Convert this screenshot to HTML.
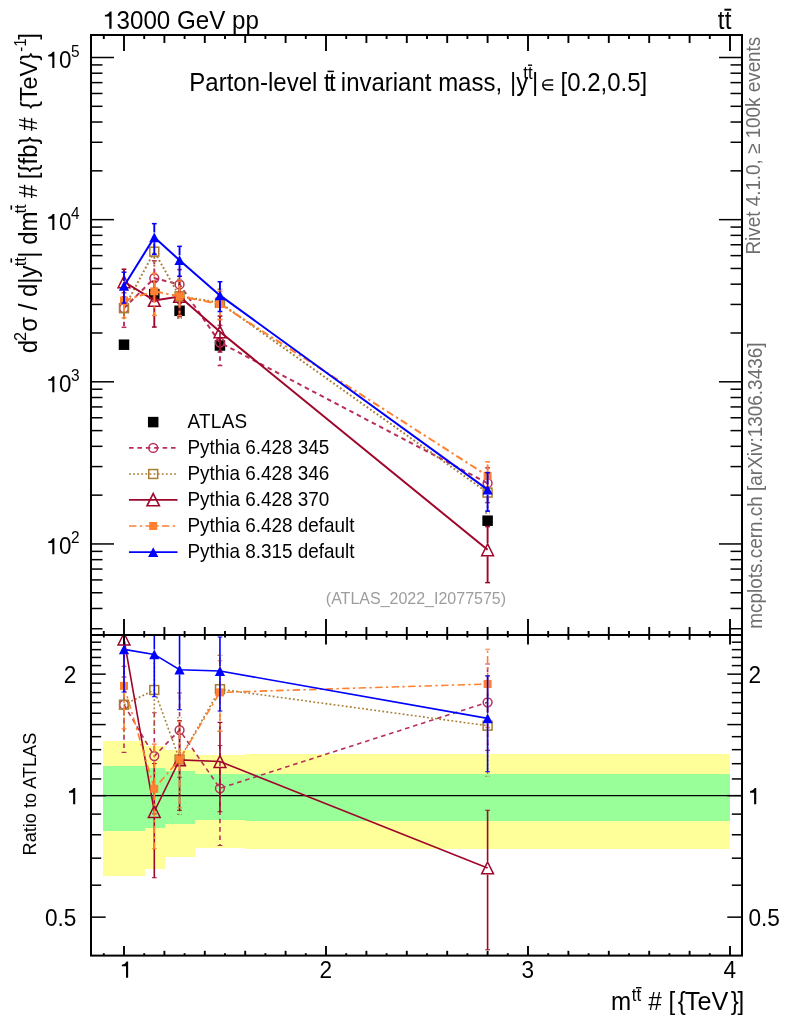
<!DOCTYPE html>
<html><head><meta charset="utf-8"><title>ttbar invariant mass</title>
<style>html,body{margin:0;padding:0;background:#fff;}svg{display:block;will-change:transform;}text{font-family:"Liberation Sans",sans-serif;fill:#000;}</style></head><body>
<svg width="786" height="1024" viewBox="0 0 786 1024">
<rect width="786" height="1024" fill="#fff"/>
<defs><clipPath id="cm"><rect x="91.0" y="35.0" width="651.0" height="600.0"/></clipPath><clipPath id="cr"><rect x="91.0" y="635.0" width="651.0" height="320.6"/></clipPath></defs>
<g shape-rendering="crispEdges">
<rect x="103" y="740.8" width="41.7" height="135.4" fill="#ffff99"/>
<rect x="144.4" y="745.6" width="20.6" height="122.9" fill="#ffff99"/>
<rect x="164.7" y="750.2" width="30.4" height="107.1" fill="#ffff99"/>
<rect x="194.8" y="754.7" width="50.7" height="93" fill="#ffff99"/>
<rect x="245.2" y="753.8" width="485.1" height="95.1" fill="#ffff99"/>
<rect x="103" y="766" width="41.7" height="65.2" fill="#99ff99"/>
<rect x="144.4" y="767.8" width="20.6" height="60.1" fill="#99ff99"/>
<rect x="164.7" y="771.2" width="30.4" height="52.6" fill="#99ff99"/>
<rect x="194.8" y="773.5" width="50.7" height="46.7" fill="#99ff99"/>
<rect x="245.2" y="774" width="485.1" height="46.8" fill="#99ff99"/>
</g>
<line x1="91.0" y1="795.65" x2="742.0" y2="795.65" stroke="#000" stroke-width="1.4"/>
<g clip-path="url(#cm)">
<rect x="118.75" y="339.45" width="10.5" height="10.5" fill="#000"/>
<rect x="149.05" y="288.85" width="10.5" height="10.5" fill="#000"/>
<rect x="174.3" y="305.55" width="10.5" height="10.5" fill="#000"/>
<rect x="214.7" y="340.25" width="10.5" height="10.5" fill="#000"/>
<rect x="482.35" y="515.45" width="10.5" height="10.5" fill="#000"/>
<polyline points="124,308.16 154.3,278.21 179.55,284.47 219.95,342.55 487.6,483.2" fill="none" stroke="#b83059" stroke-width="2.0" stroke-dasharray="4.6,3.8"/><line x1="124" y1="302.96" x2="124" y2="292.73" stroke="#b83059" stroke-width="1.9" stroke-dasharray="4.6,3.8"/><line x1="121.6" y1="292.73" x2="126.4" y2="292.73" stroke="#b83059" stroke-width="1.5"/><line x1="124" y1="313.36" x2="124" y2="327.32" stroke="#b83059" stroke-width="1.9" stroke-dasharray="4.6,3.8"/><line x1="121.6" y1="327.32" x2="126.4" y2="327.32" stroke="#b83059" stroke-width="1.5"/><line x1="154.3" y1="273.01" x2="154.3" y2="260.78" stroke="#b83059" stroke-width="1.9" stroke-dasharray="4.6,3.8"/><line x1="151.9" y1="260.78" x2="156.7" y2="260.78" stroke="#b83059" stroke-width="1.5"/><line x1="154.3" y1="283.41" x2="154.3" y2="301.43" stroke="#b83059" stroke-width="1.9" stroke-dasharray="4.6,3.8"/><line x1="151.9" y1="301.43" x2="156.7" y2="301.43" stroke="#b83059" stroke-width="1.5"/><line x1="179.55" y1="279.27" x2="179.55" y2="269.56" stroke="#b83059" stroke-width="1.9" stroke-dasharray="4.6,3.8"/><line x1="177.15" y1="269.56" x2="181.95" y2="269.56" stroke="#b83059" stroke-width="1.5"/><line x1="179.55" y1="289.67" x2="179.55" y2="303.43" stroke="#b83059" stroke-width="1.9" stroke-dasharray="4.6,3.8"/><line x1="177.15" y1="303.43" x2="181.95" y2="303.43" stroke="#b83059" stroke-width="1.5"/><line x1="219.95" y1="337.35" x2="219.95" y2="325.35" stroke="#b83059" stroke-width="1.9" stroke-dasharray="4.6,3.8"/><line x1="217.55" y1="325.35" x2="222.35" y2="325.35" stroke="#b83059" stroke-width="1.5"/><line x1="219.95" y1="347.75" x2="219.95" y2="365.53" stroke="#b83059" stroke-width="1.9" stroke-dasharray="4.6,3.8"/><line x1="217.55" y1="365.53" x2="222.35" y2="365.53" stroke="#b83059" stroke-width="1.5"/><line x1="487.6" y1="478" x2="487.6" y2="467.81" stroke="#b83059" stroke-width="1.9" stroke-dasharray="4.6,3.8"/><line x1="485.2" y1="467.81" x2="490" y2="467.81" stroke="#b83059" stroke-width="1.5"/><line x1="487.6" y1="488.4" x2="487.6" y2="502.52" stroke="#b83059" stroke-width="1.9" stroke-dasharray="4.6,3.8"/><line x1="485.2" y1="502.52" x2="490" y2="502.52" stroke="#b83059" stroke-width="1.5"/><circle cx="124" cy="308.16" r="4.4" fill="none" stroke="#b83059" stroke-width="1.5"/><circle cx="154.3" cy="278.21" r="4.4" fill="none" stroke="#b83059" stroke-width="1.5"/><circle cx="179.55" cy="284.47" r="4.4" fill="none" stroke="#b83059" stroke-width="1.5"/><circle cx="219.95" cy="342.55" r="4.4" fill="none" stroke="#b83059" stroke-width="1.5"/><circle cx="487.6" cy="483.2" r="4.4" fill="none" stroke="#b83059" stroke-width="1.5"/><polyline points="124,308.16 154.3,251.66 179.55,296.28 219.95,302.73 487.6,492.6" fill="none" stroke="#a87d2f" stroke-width="2.0" stroke-dasharray="1.8,2.3"/><line x1="124" y1="302.96" x2="124" y2="297.03" stroke="#a87d2f" stroke-width="1.9" stroke-dasharray="1.8,2.3"/><line x1="124" y1="313.36" x2="124" y2="321.54" stroke="#a87d2f" stroke-width="1.9" stroke-dasharray="1.8,2.3"/><line x1="154.3" y1="246.46" x2="154.3" y2="238.8" stroke="#a87d2f" stroke-width="1.9" stroke-dasharray="1.8,2.3"/><line x1="154.3" y1="256.86" x2="154.3" y2="267.93" stroke="#a87d2f" stroke-width="1.9" stroke-dasharray="1.8,2.3"/><line x1="179.55" y1="291.08" x2="179.55" y2="279.48" stroke="#a87d2f" stroke-width="1.9" stroke-dasharray="1.8,2.3"/><line x1="177.15" y1="279.48" x2="181.95" y2="279.48" stroke="#a87d2f" stroke-width="1.5" stroke-dasharray="1.8,2.3"/><line x1="179.55" y1="301.48" x2="179.55" y2="318.33" stroke="#a87d2f" stroke-width="1.9" stroke-dasharray="1.8,2.3"/><line x1="177.15" y1="318.33" x2="181.95" y2="318.33" stroke="#a87d2f" stroke-width="1.5" stroke-dasharray="1.8,2.3"/><line x1="219.95" y1="297.53" x2="219.95" y2="289.16" stroke="#a87d2f" stroke-width="1.9" stroke-dasharray="1.8,2.3"/><line x1="217.55" y1="289.16" x2="222.35" y2="289.16" stroke="#a87d2f" stroke-width="1.5" stroke-dasharray="1.8,2.3"/><line x1="219.95" y1="307.93" x2="219.95" y2="319.57" stroke="#a87d2f" stroke-width="1.9" stroke-dasharray="1.8,2.3"/><line x1="217.55" y1="319.57" x2="222.35" y2="319.57" stroke="#a87d2f" stroke-width="1.5" stroke-dasharray="1.8,2.3"/><line x1="487.6" y1="487.4" x2="487.6" y2="476.85" stroke="#a87d2f" stroke-width="1.9" stroke-dasharray="1.8,2.3"/><line x1="485.2" y1="476.85" x2="490" y2="476.85" stroke="#a87d2f" stroke-width="1.5" stroke-dasharray="1.8,2.3"/><line x1="487.6" y1="497.8" x2="487.6" y2="512.89" stroke="#a87d2f" stroke-width="1.9" stroke-dasharray="1.8,2.3"/><line x1="485.2" y1="512.89" x2="490" y2="512.89" stroke="#a87d2f" stroke-width="1.5" stroke-dasharray="1.8,2.3"/><rect x="119.55" y="303.71" width="8.9" height="8.9" fill="none" stroke="#a87d2f" stroke-width="1.5"/><rect x="149.85" y="247.21" width="8.9" height="8.9" fill="none" stroke="#a87d2f" stroke-width="1.5"/><rect x="175.1" y="291.83" width="8.9" height="8.9" fill="none" stroke="#a87d2f" stroke-width="1.5"/><rect x="215.5" y="298.28" width="8.9" height="8.9" fill="none" stroke="#a87d2f" stroke-width="1.5"/><rect x="483.15" y="488.15" width="8.9" height="8.9" fill="none" stroke="#a87d2f" stroke-width="1.5"/><polyline points="124,281.77 154.3,300.47 179.55,296.44 219.95,331.78 487.6,549.73" fill="none" stroke="#9e072b" stroke-width="2.0"/><line x1="124" y1="275.17" x2="124" y2="269.23" stroke="#9e072b" stroke-width="1.9"/><line x1="121.6" y1="269.23" x2="126.4" y2="269.23" stroke="#9e072b" stroke-width="1.5"/><line x1="124" y1="288.37" x2="124" y2="297.03" stroke="#9e072b" stroke-width="1.9"/><line x1="121.6" y1="297.03" x2="126.4" y2="297.03" stroke="#9e072b" stroke-width="1.5"/><line x1="154.3" y1="293.87" x2="154.3" y2="281.18" stroke="#9e072b" stroke-width="1.9"/><line x1="151.9" y1="281.18" x2="156.7" y2="281.18" stroke="#9e072b" stroke-width="1.5"/><line x1="154.3" y1="307.07" x2="154.3" y2="327.06" stroke="#9e072b" stroke-width="1.9"/><line x1="151.9" y1="327.06" x2="156.7" y2="327.06" stroke="#9e072b" stroke-width="1.5"/><line x1="179.55" y1="289.84" x2="179.55" y2="280.73" stroke="#9e072b" stroke-width="1.9"/><line x1="177.15" y1="280.73" x2="181.95" y2="280.73" stroke="#9e072b" stroke-width="1.5"/><line x1="179.55" y1="303.04" x2="179.55" y2="316.69" stroke="#9e072b" stroke-width="1.9"/><line x1="177.15" y1="316.69" x2="181.95" y2="316.69" stroke="#9e072b" stroke-width="1.5"/><line x1="219.95" y1="325.18" x2="219.95" y2="316.07" stroke="#9e072b" stroke-width="1.9"/><line x1="217.55" y1="316.07" x2="222.35" y2="316.07" stroke="#9e072b" stroke-width="1.5"/><line x1="219.95" y1="338.38" x2="219.95" y2="351.99" stroke="#9e072b" stroke-width="1.9"/><line x1="217.55" y1="351.99" x2="222.35" y2="351.99" stroke="#9e072b" stroke-width="1.5"/><line x1="487.6" y1="543.13" x2="487.6" y2="526.59" stroke="#9e072b" stroke-width="1.9"/><line x1="485.2" y1="526.59" x2="490" y2="526.59" stroke="#9e072b" stroke-width="1.5"/><line x1="487.6" y1="556.33" x2="487.6" y2="582.63" stroke="#9e072b" stroke-width="1.9"/><line x1="485.2" y1="582.63" x2="490" y2="582.63" stroke="#9e072b" stroke-width="1.5"/><path d="M124 275.87 L129.9 287.67 L118.1 287.67 Z" fill="none" stroke="#9e072b" stroke-width="1.5" stroke-linejoin="miter"/><path d="M154.3 294.57 L160.2 306.37 L148.4 306.37 Z" fill="none" stroke="#9e072b" stroke-width="1.5" stroke-linejoin="miter"/><path d="M179.55 290.54 L185.45 302.34 L173.65 302.34 Z" fill="none" stroke="#9e072b" stroke-width="1.5" stroke-linejoin="miter"/><path d="M219.95 325.88 L225.85 337.68 L214.05 337.68 Z" fill="none" stroke="#9e072b" stroke-width="1.5" stroke-linejoin="miter"/><path d="M487.6 543.83 L493.5 555.63 L481.7 555.63 Z" fill="none" stroke="#9e072b" stroke-width="1.5" stroke-linejoin="miter"/><polyline points="124,300.61 154.3,291.35 179.55,296.28 219.95,304.02 487.6,475.85" fill="none" stroke="#ff8030" stroke-width="2.0" stroke-dasharray="7.4,3.4,2.3,3.4"/><line x1="124" y1="296.61" x2="124" y2="286.75" stroke="#ff8030" stroke-width="1.9" stroke-dasharray="7.4,3.4,2.3,3.4"/><line x1="121.6" y1="286.75" x2="126.4" y2="286.75" stroke="#ff8030" stroke-width="1.5"/><line x1="124" y1="304.61" x2="124" y2="317.88" stroke="#ff8030" stroke-width="1.9" stroke-dasharray="7.4,3.4,2.3,3.4"/><line x1="121.6" y1="317.88" x2="126.4" y2="317.88" stroke="#ff8030" stroke-width="1.5"/><line x1="154.3" y1="287.35" x2="154.3" y2="273.39" stroke="#ff8030" stroke-width="1.9" stroke-dasharray="7.4,3.4,2.3,3.4"/><line x1="151.9" y1="273.39" x2="156.7" y2="273.39" stroke="#ff8030" stroke-width="1.5"/><line x1="154.3" y1="295.35" x2="154.3" y2="315.41" stroke="#ff8030" stroke-width="1.9" stroke-dasharray="7.4,3.4,2.3,3.4"/><line x1="151.9" y1="315.41" x2="156.7" y2="315.41" stroke="#ff8030" stroke-width="1.5"/><line x1="179.55" y1="292.28" x2="179.55" y2="281.01" stroke="#ff8030" stroke-width="1.9" stroke-dasharray="7.4,3.4,2.3,3.4"/><line x1="177.15" y1="281.01" x2="181.95" y2="281.01" stroke="#ff8030" stroke-width="1.5"/><line x1="179.55" y1="300.28" x2="179.55" y2="315.64" stroke="#ff8030" stroke-width="1.9" stroke-dasharray="7.4,3.4,2.3,3.4"/><line x1="177.15" y1="315.64" x2="181.95" y2="315.64" stroke="#ff8030" stroke-width="1.5"/><line x1="219.95" y1="300.02" x2="219.95" y2="291.32" stroke="#ff8030" stroke-width="1.9" stroke-dasharray="7.4,3.4,2.3,3.4"/><line x1="217.55" y1="291.32" x2="222.35" y2="291.32" stroke="#ff8030" stroke-width="1.5"/><line x1="219.95" y1="308.02" x2="219.95" y2="319.61" stroke="#ff8030" stroke-width="1.9" stroke-dasharray="7.4,3.4,2.3,3.4"/><line x1="217.55" y1="319.61" x2="222.35" y2="319.61" stroke="#ff8030" stroke-width="1.5"/><line x1="487.6" y1="471.85" x2="487.6" y2="461.86" stroke="#ff8030" stroke-width="1.9" stroke-dasharray="7.4,3.4,2.3,3.4"/><line x1="485.2" y1="461.86" x2="490" y2="461.86" stroke="#ff8030" stroke-width="1.5"/><line x1="487.6" y1="479.85" x2="487.6" y2="493.36" stroke="#ff8030" stroke-width="1.9" stroke-dasharray="7.4,3.4,2.3,3.4"/><line x1="485.2" y1="493.36" x2="490" y2="493.36" stroke="#ff8030" stroke-width="1.5"/><rect x="120" y="296.61" width="8" height="8" fill="#ff8030"/><rect x="150.3" y="287.35" width="8" height="8" fill="#ff8030"/><rect x="175.55" y="292.28" width="8" height="8" fill="#ff8030"/><rect x="215.95" y="300.02" width="8" height="8" fill="#ff8030"/><rect x="483.6" y="471.85" width="8" height="8" fill="#ff8030"/><polyline points="124,285.94 154.3,237.35 179.55,260.2 219.95,295.42 487.6,489.67" fill="none" stroke="#0000ff" stroke-width="2.0"/><line x1="124" y1="281.04" x2="124" y2="272.19" stroke="#0000ff" stroke-width="1.9"/><line x1="121.6" y1="272.19" x2="126.4" y2="272.19" stroke="#0000ff" stroke-width="1.5"/><line x1="124" y1="290.84" x2="124" y2="303.06" stroke="#0000ff" stroke-width="1.9"/><line x1="121.6" y1="303.06" x2="126.4" y2="303.06" stroke="#0000ff" stroke-width="1.5"/><line x1="154.3" y1="232.45" x2="154.3" y2="223.65" stroke="#0000ff" stroke-width="1.9"/><line x1="151.9" y1="223.65" x2="156.7" y2="223.65" stroke="#0000ff" stroke-width="1.5"/><line x1="154.3" y1="242.25" x2="154.3" y2="254.39" stroke="#0000ff" stroke-width="1.9"/><line x1="151.9" y1="254.39" x2="156.7" y2="254.39" stroke="#0000ff" stroke-width="1.5"/><line x1="179.55" y1="255.3" x2="179.55" y2="246.34" stroke="#0000ff" stroke-width="1.9"/><line x1="177.15" y1="246.34" x2="181.95" y2="246.34" stroke="#0000ff" stroke-width="1.5"/><line x1="179.55" y1="265.1" x2="179.55" y2="276.31" stroke="#0000ff" stroke-width="1.9"/><line x1="177.15" y1="276.31" x2="181.95" y2="276.31" stroke="#0000ff" stroke-width="1.5"/><line x1="219.95" y1="290.52" x2="219.95" y2="281.76" stroke="#0000ff" stroke-width="1.9"/><line x1="217.55" y1="281.76" x2="222.35" y2="281.76" stroke="#0000ff" stroke-width="1.5"/><line x1="219.95" y1="300.32" x2="219.95" y2="311.49" stroke="#0000ff" stroke-width="1.9"/><line x1="217.55" y1="311.49" x2="222.35" y2="311.49" stroke="#0000ff" stroke-width="1.5"/><line x1="487.6" y1="484.77" x2="487.6" y2="472.59" stroke="#0000ff" stroke-width="1.9"/><line x1="485.2" y1="472.59" x2="490" y2="472.59" stroke="#0000ff" stroke-width="1.5"/><line x1="487.6" y1="494.57" x2="487.6" y2="511.12" stroke="#0000ff" stroke-width="1.9"/><line x1="485.2" y1="511.12" x2="490" y2="511.12" stroke="#0000ff" stroke-width="1.5"/><path d="M124 281.04 L129.1 290.84 L118.9 290.84 Z" fill="#0000ff"/><path d="M154.3 232.45 L159.4 242.25 L149.2 242.25 Z" fill="#0000ff"/><path d="M179.55 255.3 L184.65 265.1 L174.45 265.1 Z" fill="#0000ff"/><path d="M219.95 290.52 L225.05 300.32 L214.85 300.32 Z" fill="#0000ff"/><path d="M487.6 484.77 L492.7 494.57 L482.5 494.57 Z" fill="#0000ff"/>
</g>
<g clip-path="url(#cr)">
<polyline points="124,704.7 154.3,756.1 179.55,730.1 219.95,788.3 487.6,702.3" fill="none" stroke="#b83059" stroke-width="1.6" stroke-dasharray="4.6,3.8"/><line x1="124" y1="699.5" x2="124" y2="666.3" stroke="#b83059" stroke-width="1.6" stroke-dasharray="4.6,3.8"/><line x1="121.6" y1="666.3" x2="126.4" y2="666.3" stroke="#b83059" stroke-width="1.1"/><line x1="124" y1="709.9" x2="124" y2="752.4" stroke="#b83059" stroke-width="1.6" stroke-dasharray="4.6,3.8"/><line x1="121.6" y1="752.4" x2="126.4" y2="752.4" stroke="#b83059" stroke-width="1.1"/><line x1="154.3" y1="750.9" x2="154.3" y2="712.7" stroke="#b83059" stroke-width="1.6" stroke-dasharray="4.6,3.8"/><line x1="151.9" y1="712.7" x2="156.7" y2="712.7" stroke="#b83059" stroke-width="1.1"/><line x1="154.3" y1="761.3" x2="154.3" y2="813.9" stroke="#b83059" stroke-width="1.6" stroke-dasharray="4.6,3.8"/><line x1="151.9" y1="813.9" x2="156.7" y2="813.9" stroke="#b83059" stroke-width="1.1"/><line x1="179.55" y1="724.9" x2="179.55" y2="693" stroke="#b83059" stroke-width="1.6" stroke-dasharray="4.6,3.8"/><line x1="177.15" y1="693" x2="181.95" y2="693" stroke="#b83059" stroke-width="1.1"/><line x1="179.55" y1="735.3" x2="179.55" y2="777.3" stroke="#b83059" stroke-width="1.6" stroke-dasharray="4.6,3.8"/><line x1="177.15" y1="777.3" x2="181.95" y2="777.3" stroke="#b83059" stroke-width="1.1"/><line x1="219.95" y1="783.1" x2="219.95" y2="745.5" stroke="#b83059" stroke-width="1.6" stroke-dasharray="4.6,3.8"/><line x1="217.55" y1="745.5" x2="222.35" y2="745.5" stroke="#b83059" stroke-width="1.1"/><line x1="219.95" y1="793.5" x2="219.95" y2="845.5" stroke="#b83059" stroke-width="1.6" stroke-dasharray="4.6,3.8"/><line x1="217.55" y1="845.5" x2="222.35" y2="845.5" stroke="#b83059" stroke-width="1.1"/><line x1="487.6" y1="697.1" x2="487.6" y2="664" stroke="#b83059" stroke-width="1.6" stroke-dasharray="4.6,3.8"/><line x1="485.2" y1="664" x2="490" y2="664" stroke="#b83059" stroke-width="1.1"/><line x1="487.6" y1="707.5" x2="487.6" y2="750.4" stroke="#b83059" stroke-width="1.6" stroke-dasharray="4.6,3.8"/><line x1="485.2" y1="750.4" x2="490" y2="750.4" stroke="#b83059" stroke-width="1.1"/><circle cx="124" cy="704.7" r="4.4" fill="none" stroke="#b83059" stroke-width="1.5"/><circle cx="154.3" cy="756.1" r="4.4" fill="none" stroke="#b83059" stroke-width="1.5"/><circle cx="179.55" cy="730.1" r="4.4" fill="none" stroke="#b83059" stroke-width="1.5"/><circle cx="219.95" cy="788.3" r="4.4" fill="none" stroke="#b83059" stroke-width="1.5"/><circle cx="487.6" cy="702.3" r="4.4" fill="none" stroke="#b83059" stroke-width="1.5"/><polyline points="124,704.7 154.3,690 179.55,759.5 219.95,689.2 487.6,725.7" fill="none" stroke="#a87d2f" stroke-width="1.6" stroke-dasharray="1.8,2.3"/><line x1="124" y1="699.5" x2="124" y2="677" stroke="#a87d2f" stroke-width="1.6" stroke-dasharray="1.8,2.3"/><line x1="124" y1="709.9" x2="124" y2="738" stroke="#a87d2f" stroke-width="1.6" stroke-dasharray="1.8,2.3"/><line x1="154.3" y1="684.8" x2="154.3" y2="658" stroke="#a87d2f" stroke-width="1.6" stroke-dasharray="1.8,2.3"/><line x1="154.3" y1="695.2" x2="154.3" y2="730.5" stroke="#a87d2f" stroke-width="1.6" stroke-dasharray="1.8,2.3"/><line x1="179.55" y1="754.3" x2="179.55" y2="717.7" stroke="#a87d2f" stroke-width="1.6" stroke-dasharray="1.8,2.3"/><line x1="177.15" y1="717.7" x2="181.95" y2="717.7" stroke="#a87d2f" stroke-width="1.1" stroke-dasharray="1.8,2.3"/><line x1="179.55" y1="764.7" x2="179.55" y2="814.4" stroke="#a87d2f" stroke-width="1.6" stroke-dasharray="1.8,2.3"/><line x1="177.15" y1="814.4" x2="181.95" y2="814.4" stroke="#a87d2f" stroke-width="1.1" stroke-dasharray="1.8,2.3"/><line x1="219.95" y1="684" x2="219.95" y2="655.4" stroke="#a87d2f" stroke-width="1.6" stroke-dasharray="1.8,2.3"/><line x1="217.55" y1="655.4" x2="222.35" y2="655.4" stroke="#a87d2f" stroke-width="1.1" stroke-dasharray="1.8,2.3"/><line x1="219.95" y1="694.4" x2="219.95" y2="731.1" stroke="#a87d2f" stroke-width="1.6" stroke-dasharray="1.8,2.3"/><line x1="217.55" y1="731.1" x2="222.35" y2="731.1" stroke="#a87d2f" stroke-width="1.1" stroke-dasharray="1.8,2.3"/><line x1="487.6" y1="720.5" x2="487.6" y2="686.5" stroke="#a87d2f" stroke-width="1.6" stroke-dasharray="1.8,2.3"/><line x1="485.2" y1="686.5" x2="490" y2="686.5" stroke="#a87d2f" stroke-width="1.1" stroke-dasharray="1.8,2.3"/><line x1="487.6" y1="730.9" x2="487.6" y2="776.2" stroke="#a87d2f" stroke-width="1.6" stroke-dasharray="1.8,2.3"/><line x1="485.2" y1="776.2" x2="490" y2="776.2" stroke="#a87d2f" stroke-width="1.1" stroke-dasharray="1.8,2.3"/><rect x="119.55" y="700.25" width="8.9" height="8.9" fill="none" stroke="#a87d2f" stroke-width="1.5"/><rect x="149.85" y="685.55" width="8.9" height="8.9" fill="none" stroke="#a87d2f" stroke-width="1.5"/><rect x="175.1" y="755.05" width="8.9" height="8.9" fill="none" stroke="#a87d2f" stroke-width="1.5"/><rect x="215.5" y="684.75" width="8.9" height="8.9" fill="none" stroke="#a87d2f" stroke-width="1.5"/><rect x="483.15" y="721.25" width="8.9" height="8.9" fill="none" stroke="#a87d2f" stroke-width="1.5"/><polyline points="124,639 154.3,811.5 179.55,759.9 219.95,761.5 487.6,867.9" fill="none" stroke="#9e072b" stroke-width="1.6"/><line x1="124" y1="632.4" x2="124" y2="607.79" stroke="#9e072b" stroke-width="1.6"/><line x1="121.6" y1="607.79" x2="126.4" y2="607.79" stroke="#9e072b" stroke-width="1.1"/><line x1="124" y1="645.6" x2="124" y2="677" stroke="#9e072b" stroke-width="1.6"/><line x1="121.6" y1="677" x2="126.4" y2="677" stroke="#9e072b" stroke-width="1.1"/><line x1="154.3" y1="804.9" x2="154.3" y2="763.5" stroke="#9e072b" stroke-width="1.6"/><line x1="151.9" y1="763.5" x2="156.7" y2="763.5" stroke="#9e072b" stroke-width="1.1"/><line x1="154.3" y1="818.1" x2="154.3" y2="877.7" stroke="#9e072b" stroke-width="1.6"/><line x1="151.9" y1="877.7" x2="156.7" y2="877.7" stroke="#9e072b" stroke-width="1.1"/><line x1="179.55" y1="753.3" x2="179.55" y2="720.8" stroke="#9e072b" stroke-width="1.6"/><line x1="177.15" y1="720.8" x2="181.95" y2="720.8" stroke="#9e072b" stroke-width="1.1"/><line x1="179.55" y1="766.5" x2="179.55" y2="810.3" stroke="#9e072b" stroke-width="1.6"/><line x1="177.15" y1="810.3" x2="181.95" y2="810.3" stroke="#9e072b" stroke-width="1.1"/><line x1="219.95" y1="754.9" x2="219.95" y2="722.4" stroke="#9e072b" stroke-width="1.6"/><line x1="217.55" y1="722.4" x2="222.35" y2="722.4" stroke="#9e072b" stroke-width="1.1"/><line x1="219.95" y1="768.1" x2="219.95" y2="811.8" stroke="#9e072b" stroke-width="1.6"/><line x1="217.55" y1="811.8" x2="222.35" y2="811.8" stroke="#9e072b" stroke-width="1.1"/><line x1="487.6" y1="861.3" x2="487.6" y2="810.3" stroke="#9e072b" stroke-width="1.6"/><line x1="485.2" y1="810.3" x2="490" y2="810.3" stroke="#9e072b" stroke-width="1.1"/><line x1="487.6" y1="874.5" x2="487.6" y2="949.8" stroke="#9e072b" stroke-width="1.6"/><line x1="485.2" y1="949.8" x2="490" y2="949.8" stroke="#9e072b" stroke-width="1.1"/><path d="M124 633.1 L129.9 644.9 L118.1 644.9 Z" fill="none" stroke="#9e072b" stroke-width="1.5" stroke-linejoin="miter"/><path d="M154.3 805.6 L160.2 817.4 L148.4 817.4 Z" fill="none" stroke="#9e072b" stroke-width="1.5" stroke-linejoin="miter"/><path d="M179.55 754 L185.45 765.8 L173.65 765.8 Z" fill="none" stroke="#9e072b" stroke-width="1.5" stroke-linejoin="miter"/><path d="M219.95 755.6 L225.85 767.4 L214.05 767.4 Z" fill="none" stroke="#9e072b" stroke-width="1.5" stroke-linejoin="miter"/><path d="M487.6 862 L493.5 873.8 L481.7 873.8 Z" fill="none" stroke="#9e072b" stroke-width="1.5" stroke-linejoin="miter"/><polyline points="124,685.9 154.3,788.8 179.55,759.5 219.95,692.4 487.6,684" fill="none" stroke="#ff8030" stroke-width="1.6" stroke-dasharray="7.4,3.4,2.3,3.4"/><line x1="124" y1="681.9" x2="124" y2="651.4" stroke="#ff8030" stroke-width="1.6" stroke-dasharray="7.4,3.4,2.3,3.4"/><line x1="121.6" y1="651.4" x2="126.4" y2="651.4" stroke="#ff8030" stroke-width="1.1"/><line x1="124" y1="689.9" x2="124" y2="728.9" stroke="#ff8030" stroke-width="1.6" stroke-dasharray="7.4,3.4,2.3,3.4"/><line x1="121.6" y1="728.9" x2="126.4" y2="728.9" stroke="#ff8030" stroke-width="1.1"/><line x1="154.3" y1="784.8" x2="154.3" y2="744.1" stroke="#ff8030" stroke-width="1.6" stroke-dasharray="7.4,3.4,2.3,3.4"/><line x1="151.9" y1="744.1" x2="156.7" y2="744.1" stroke="#ff8030" stroke-width="1.1"/><line x1="154.3" y1="792.8" x2="154.3" y2="848.7" stroke="#ff8030" stroke-width="1.6" stroke-dasharray="7.4,3.4,2.3,3.4"/><line x1="151.9" y1="848.7" x2="156.7" y2="848.7" stroke="#ff8030" stroke-width="1.1"/><line x1="179.55" y1="755.5" x2="179.55" y2="721.5" stroke="#ff8030" stroke-width="1.6" stroke-dasharray="7.4,3.4,2.3,3.4"/><line x1="177.15" y1="721.5" x2="181.95" y2="721.5" stroke="#ff8030" stroke-width="1.1"/><line x1="179.55" y1="763.5" x2="179.55" y2="807.7" stroke="#ff8030" stroke-width="1.6" stroke-dasharray="7.4,3.4,2.3,3.4"/><line x1="177.15" y1="807.7" x2="181.95" y2="807.7" stroke="#ff8030" stroke-width="1.1"/><line x1="219.95" y1="688.4" x2="219.95" y2="660.8" stroke="#ff8030" stroke-width="1.6" stroke-dasharray="7.4,3.4,2.3,3.4"/><line x1="217.55" y1="660.8" x2="222.35" y2="660.8" stroke="#ff8030" stroke-width="1.1"/><line x1="219.95" y1="696.4" x2="219.95" y2="731.2" stroke="#ff8030" stroke-width="1.6" stroke-dasharray="7.4,3.4,2.3,3.4"/><line x1="217.55" y1="731.2" x2="222.35" y2="731.2" stroke="#ff8030" stroke-width="1.1"/><line x1="487.6" y1="680" x2="487.6" y2="649.2" stroke="#ff8030" stroke-width="1.6" stroke-dasharray="7.4,3.4,2.3,3.4"/><line x1="485.2" y1="649.2" x2="490" y2="649.2" stroke="#ff8030" stroke-width="1.1"/><line x1="487.6" y1="688" x2="487.6" y2="727.6" stroke="#ff8030" stroke-width="1.6" stroke-dasharray="7.4,3.4,2.3,3.4"/><line x1="485.2" y1="727.6" x2="490" y2="727.6" stroke="#ff8030" stroke-width="1.1"/><rect x="120" y="681.9" width="8" height="8" fill="#ff8030"/><rect x="150.3" y="784.8" width="8" height="8" fill="#ff8030"/><rect x="175.55" y="755.5" width="8" height="8" fill="#ff8030"/><rect x="215.95" y="688.4" width="8" height="8" fill="#ff8030"/><rect x="483.6" y="680" width="8" height="8" fill="#ff8030"/><polyline points="124,649.4 154.3,654.4 179.55,669.7 219.95,671 487.6,718.4" fill="none" stroke="#0000ff" stroke-width="1.6"/><line x1="124" y1="644.5" x2="124" y2="615.16" stroke="#0000ff" stroke-width="1.6"/><line x1="121.6" y1="615.16" x2="126.4" y2="615.16" stroke="#0000ff" stroke-width="1.1"/><line x1="124" y1="654.3" x2="124" y2="692" stroke="#0000ff" stroke-width="1.6"/><line x1="121.6" y1="692" x2="126.4" y2="692" stroke="#0000ff" stroke-width="1.1"/><line x1="154.3" y1="649.5" x2="154.3" y2="620.28" stroke="#0000ff" stroke-width="1.6"/><line x1="151.9" y1="620.28" x2="156.7" y2="620.28" stroke="#0000ff" stroke-width="1.1"/><line x1="154.3" y1="659.3" x2="154.3" y2="696.8" stroke="#0000ff" stroke-width="1.6"/><line x1="151.9" y1="696.8" x2="156.7" y2="696.8" stroke="#0000ff" stroke-width="1.1"/><line x1="179.55" y1="664.8" x2="179.55" y2="635.2" stroke="#0000ff" stroke-width="1.6"/><line x1="177.15" y1="635.2" x2="181.95" y2="635.2" stroke="#0000ff" stroke-width="1.1"/><line x1="179.55" y1="674.6" x2="179.55" y2="709.8" stroke="#0000ff" stroke-width="1.6"/><line x1="177.15" y1="709.8" x2="181.95" y2="709.8" stroke="#0000ff" stroke-width="1.1"/><line x1="219.95" y1="666.1" x2="219.95" y2="637" stroke="#0000ff" stroke-width="1.6"/><line x1="217.55" y1="637" x2="222.35" y2="637" stroke="#0000ff" stroke-width="1.1"/><line x1="219.95" y1="675.9" x2="219.95" y2="711" stroke="#0000ff" stroke-width="1.6"/><line x1="217.55" y1="711" x2="222.35" y2="711" stroke="#0000ff" stroke-width="1.1"/><line x1="487.6" y1="713.5" x2="487.6" y2="675.9" stroke="#0000ff" stroke-width="1.6"/><line x1="485.2" y1="675.9" x2="490" y2="675.9" stroke="#0000ff" stroke-width="1.1"/><line x1="487.6" y1="723.3" x2="487.6" y2="771.8" stroke="#0000ff" stroke-width="1.6"/><line x1="485.2" y1="771.8" x2="490" y2="771.8" stroke="#0000ff" stroke-width="1.1"/><path d="M124 644.5 L129.1 654.3 L118.9 654.3 Z" fill="#0000ff"/><path d="M154.3 649.5 L159.4 659.3 L149.2 659.3 Z" fill="#0000ff"/><path d="M179.55 664.8 L184.65 674.6 L174.45 674.6 Z" fill="#0000ff"/><path d="M219.95 666.1 L225.05 675.9 L214.85 675.9 Z" fill="#0000ff"/><path d="M487.6 713.5 L492.7 723.3 L482.5 723.3 Z" fill="#0000ff"/>
</g>
<g stroke="#000" stroke-width="1.9"><line x1="103.8" y1="35" x2="103.8" y2="39"/><line x1="103.8" y1="635" x2="103.8" y2="631"/><line x1="103.8" y1="635" x2="103.8" y2="637.4"/><line x1="103.8" y1="955.6" x2="103.8" y2="953.2"/><line x1="124" y1="35" x2="124" y2="51"/><line x1="124" y1="635" x2="124" y2="619"/><line x1="124" y1="635" x2="124" y2="644.5"/><line x1="124" y1="955.6" x2="124" y2="946.1"/><line x1="144.2" y1="35" x2="144.2" y2="39"/><line x1="144.2" y1="635" x2="144.2" y2="631"/><line x1="144.2" y1="635" x2="144.2" y2="637.4"/><line x1="144.2" y1="955.6" x2="144.2" y2="953.2"/><line x1="164.4" y1="35" x2="164.4" y2="43"/><line x1="164.4" y1="635" x2="164.4" y2="627"/><line x1="164.4" y1="635" x2="164.4" y2="639.8"/><line x1="164.4" y1="955.6" x2="164.4" y2="950.8"/><line x1="184.6" y1="35" x2="184.6" y2="39"/><line x1="184.6" y1="635" x2="184.6" y2="631"/><line x1="184.6" y1="635" x2="184.6" y2="637.4"/><line x1="184.6" y1="955.6" x2="184.6" y2="953.2"/><line x1="204.8" y1="35" x2="204.8" y2="43"/><line x1="204.8" y1="635" x2="204.8" y2="627"/><line x1="204.8" y1="635" x2="204.8" y2="639.8"/><line x1="204.8" y1="955.6" x2="204.8" y2="950.8"/><line x1="225" y1="35" x2="225" y2="39"/><line x1="225" y1="635" x2="225" y2="631"/><line x1="225" y1="635" x2="225" y2="637.4"/><line x1="225" y1="955.6" x2="225" y2="953.2"/><line x1="245.2" y1="35" x2="245.2" y2="43"/><line x1="245.2" y1="635" x2="245.2" y2="627"/><line x1="245.2" y1="635" x2="245.2" y2="639.8"/><line x1="245.2" y1="955.6" x2="245.2" y2="950.8"/><line x1="265.4" y1="35" x2="265.4" y2="39"/><line x1="265.4" y1="635" x2="265.4" y2="631"/><line x1="265.4" y1="635" x2="265.4" y2="637.4"/><line x1="265.4" y1="955.6" x2="265.4" y2="953.2"/><line x1="285.6" y1="35" x2="285.6" y2="43"/><line x1="285.6" y1="635" x2="285.6" y2="627"/><line x1="285.6" y1="635" x2="285.6" y2="639.8"/><line x1="285.6" y1="955.6" x2="285.6" y2="950.8"/><line x1="305.8" y1="35" x2="305.8" y2="39"/><line x1="305.8" y1="635" x2="305.8" y2="631"/><line x1="305.8" y1="635" x2="305.8" y2="637.4"/><line x1="305.8" y1="955.6" x2="305.8" y2="953.2"/><line x1="326" y1="35" x2="326" y2="51"/><line x1="326" y1="635" x2="326" y2="619"/><line x1="326" y1="635" x2="326" y2="644.5"/><line x1="326" y1="955.6" x2="326" y2="946.1"/><line x1="346.2" y1="35" x2="346.2" y2="39"/><line x1="346.2" y1="635" x2="346.2" y2="631"/><line x1="346.2" y1="635" x2="346.2" y2="637.4"/><line x1="346.2" y1="955.6" x2="346.2" y2="953.2"/><line x1="366.4" y1="35" x2="366.4" y2="43"/><line x1="366.4" y1="635" x2="366.4" y2="627"/><line x1="366.4" y1="635" x2="366.4" y2="639.8"/><line x1="366.4" y1="955.6" x2="366.4" y2="950.8"/><line x1="386.6" y1="35" x2="386.6" y2="39"/><line x1="386.6" y1="635" x2="386.6" y2="631"/><line x1="386.6" y1="635" x2="386.6" y2="637.4"/><line x1="386.6" y1="955.6" x2="386.6" y2="953.2"/><line x1="406.8" y1="35" x2="406.8" y2="43"/><line x1="406.8" y1="635" x2="406.8" y2="627"/><line x1="406.8" y1="635" x2="406.8" y2="639.8"/><line x1="406.8" y1="955.6" x2="406.8" y2="950.8"/><line x1="427" y1="35" x2="427" y2="39"/><line x1="427" y1="635" x2="427" y2="631"/><line x1="427" y1="635" x2="427" y2="637.4"/><line x1="427" y1="955.6" x2="427" y2="953.2"/><line x1="447.2" y1="35" x2="447.2" y2="43"/><line x1="447.2" y1="635" x2="447.2" y2="627"/><line x1="447.2" y1="635" x2="447.2" y2="639.8"/><line x1="447.2" y1="955.6" x2="447.2" y2="950.8"/><line x1="467.4" y1="35" x2="467.4" y2="39"/><line x1="467.4" y1="635" x2="467.4" y2="631"/><line x1="467.4" y1="635" x2="467.4" y2="637.4"/><line x1="467.4" y1="955.6" x2="467.4" y2="953.2"/><line x1="487.6" y1="35" x2="487.6" y2="43"/><line x1="487.6" y1="635" x2="487.6" y2="627"/><line x1="487.6" y1="635" x2="487.6" y2="639.8"/><line x1="487.6" y1="955.6" x2="487.6" y2="950.8"/><line x1="507.8" y1="35" x2="507.8" y2="39"/><line x1="507.8" y1="635" x2="507.8" y2="631"/><line x1="507.8" y1="635" x2="507.8" y2="637.4"/><line x1="507.8" y1="955.6" x2="507.8" y2="953.2"/><line x1="528" y1="35" x2="528" y2="51"/><line x1="528" y1="635" x2="528" y2="619"/><line x1="528" y1="635" x2="528" y2="644.5"/><line x1="528" y1="955.6" x2="528" y2="946.1"/><line x1="548.2" y1="35" x2="548.2" y2="39"/><line x1="548.2" y1="635" x2="548.2" y2="631"/><line x1="548.2" y1="635" x2="548.2" y2="637.4"/><line x1="548.2" y1="955.6" x2="548.2" y2="953.2"/><line x1="568.4" y1="35" x2="568.4" y2="43"/><line x1="568.4" y1="635" x2="568.4" y2="627"/><line x1="568.4" y1="635" x2="568.4" y2="639.8"/><line x1="568.4" y1="955.6" x2="568.4" y2="950.8"/><line x1="588.6" y1="35" x2="588.6" y2="39"/><line x1="588.6" y1="635" x2="588.6" y2="631"/><line x1="588.6" y1="635" x2="588.6" y2="637.4"/><line x1="588.6" y1="955.6" x2="588.6" y2="953.2"/><line x1="608.8" y1="35" x2="608.8" y2="43"/><line x1="608.8" y1="635" x2="608.8" y2="627"/><line x1="608.8" y1="635" x2="608.8" y2="639.8"/><line x1="608.8" y1="955.6" x2="608.8" y2="950.8"/><line x1="629" y1="35" x2="629" y2="39"/><line x1="629" y1="635" x2="629" y2="631"/><line x1="629" y1="635" x2="629" y2="637.4"/><line x1="629" y1="955.6" x2="629" y2="953.2"/><line x1="649.2" y1="35" x2="649.2" y2="43"/><line x1="649.2" y1="635" x2="649.2" y2="627"/><line x1="649.2" y1="635" x2="649.2" y2="639.8"/><line x1="649.2" y1="955.6" x2="649.2" y2="950.8"/><line x1="669.4" y1="35" x2="669.4" y2="39"/><line x1="669.4" y1="635" x2="669.4" y2="631"/><line x1="669.4" y1="635" x2="669.4" y2="637.4"/><line x1="669.4" y1="955.6" x2="669.4" y2="953.2"/><line x1="689.6" y1="35" x2="689.6" y2="43"/><line x1="689.6" y1="635" x2="689.6" y2="627"/><line x1="689.6" y1="635" x2="689.6" y2="639.8"/><line x1="689.6" y1="955.6" x2="689.6" y2="950.8"/><line x1="709.8" y1="35" x2="709.8" y2="39"/><line x1="709.8" y1="635" x2="709.8" y2="631"/><line x1="709.8" y1="635" x2="709.8" y2="637.4"/><line x1="709.8" y1="955.6" x2="709.8" y2="953.2"/><line x1="730" y1="35" x2="730" y2="51"/><line x1="730" y1="635" x2="730" y2="619"/><line x1="730" y1="635" x2="730" y2="644.5"/><line x1="730" y1="955.6" x2="730" y2="946.1"/></g>
<g stroke="#000" stroke-width="1.5"><line x1="91" y1="628.73" x2="102.5" y2="628.73"/><line x1="742" y1="628.73" x2="730.5" y2="628.73"/><line x1="91" y1="608.48" x2="102.5" y2="608.48"/><line x1="742" y1="608.48" x2="730.5" y2="608.48"/><line x1="91" y1="592.76" x2="102.5" y2="592.76"/><line x1="742" y1="592.76" x2="730.5" y2="592.76"/><line x1="91" y1="579.92" x2="102.5" y2="579.92"/><line x1="742" y1="579.92" x2="730.5" y2="579.92"/><line x1="91" y1="569.07" x2="102.5" y2="569.07"/><line x1="742" y1="569.07" x2="730.5" y2="569.07"/><line x1="91" y1="559.66" x2="102.5" y2="559.66"/><line x1="742" y1="559.66" x2="730.5" y2="559.66"/><line x1="91" y1="551.37" x2="102.5" y2="551.37"/><line x1="742" y1="551.37" x2="730.5" y2="551.37"/><line x1="91" y1="543.95" x2="114" y2="543.95"/><line x1="742" y1="543.95" x2="719" y2="543.95"/><line x1="91" y1="495.14" x2="102.5" y2="495.14"/><line x1="742" y1="495.14" x2="730.5" y2="495.14"/><line x1="91" y1="466.58" x2="102.5" y2="466.58"/><line x1="742" y1="466.58" x2="730.5" y2="466.58"/><line x1="91" y1="446.33" x2="102.5" y2="446.33"/><line x1="742" y1="446.33" x2="730.5" y2="446.33"/><line x1="91" y1="430.61" x2="102.5" y2="430.61"/><line x1="742" y1="430.61" x2="730.5" y2="430.61"/><line x1="91" y1="417.77" x2="102.5" y2="417.77"/><line x1="742" y1="417.77" x2="730.5" y2="417.77"/><line x1="91" y1="406.92" x2="102.5" y2="406.92"/><line x1="742" y1="406.92" x2="730.5" y2="406.92"/><line x1="91" y1="397.51" x2="102.5" y2="397.51"/><line x1="742" y1="397.51" x2="730.5" y2="397.51"/><line x1="91" y1="389.22" x2="102.5" y2="389.22"/><line x1="742" y1="389.22" x2="730.5" y2="389.22"/><line x1="91" y1="381.8" x2="114" y2="381.8"/><line x1="742" y1="381.8" x2="719" y2="381.8"/><line x1="91" y1="332.99" x2="102.5" y2="332.99"/><line x1="742" y1="332.99" x2="730.5" y2="332.99"/><line x1="91" y1="304.43" x2="102.5" y2="304.43"/><line x1="742" y1="304.43" x2="730.5" y2="304.43"/><line x1="91" y1="284.18" x2="102.5" y2="284.18"/><line x1="742" y1="284.18" x2="730.5" y2="284.18"/><line x1="91" y1="268.46" x2="102.5" y2="268.46"/><line x1="742" y1="268.46" x2="730.5" y2="268.46"/><line x1="91" y1="255.62" x2="102.5" y2="255.62"/><line x1="742" y1="255.62" x2="730.5" y2="255.62"/><line x1="91" y1="244.77" x2="102.5" y2="244.77"/><line x1="742" y1="244.77" x2="730.5" y2="244.77"/><line x1="91" y1="235.36" x2="102.5" y2="235.36"/><line x1="742" y1="235.36" x2="730.5" y2="235.36"/><line x1="91" y1="227.07" x2="102.5" y2="227.07"/><line x1="742" y1="227.07" x2="730.5" y2="227.07"/><line x1="91" y1="219.65" x2="114" y2="219.65"/><line x1="742" y1="219.65" x2="719" y2="219.65"/><line x1="91" y1="170.84" x2="102.5" y2="170.84"/><line x1="742" y1="170.84" x2="730.5" y2="170.84"/><line x1="91" y1="142.28" x2="102.5" y2="142.28"/><line x1="742" y1="142.28" x2="730.5" y2="142.28"/><line x1="91" y1="122.03" x2="102.5" y2="122.03"/><line x1="742" y1="122.03" x2="730.5" y2="122.03"/><line x1="91" y1="106.31" x2="102.5" y2="106.31"/><line x1="742" y1="106.31" x2="730.5" y2="106.31"/><line x1="91" y1="93.47" x2="102.5" y2="93.47"/><line x1="742" y1="93.47" x2="730.5" y2="93.47"/><line x1="91" y1="82.62" x2="102.5" y2="82.62"/><line x1="742" y1="82.62" x2="730.5" y2="82.62"/><line x1="91" y1="73.21" x2="102.5" y2="73.21"/><line x1="742" y1="73.21" x2="730.5" y2="73.21"/><line x1="91" y1="64.92" x2="102.5" y2="64.92"/><line x1="742" y1="64.92" x2="730.5" y2="64.92"/><line x1="91" y1="57.5" x2="114" y2="57.5"/><line x1="742" y1="57.5" x2="719" y2="57.5"/><line x1="91" y1="917.15" x2="105.7" y2="917.15"/><line x1="742" y1="917.15" x2="727.3" y2="917.15"/><line x1="91" y1="885.19" x2="101.2" y2="885.19"/><line x1="742" y1="885.19" x2="731.8" y2="885.19"/><line x1="91" y1="858.17" x2="101.2" y2="858.17"/><line x1="742" y1="858.17" x2="731.8" y2="858.17"/><line x1="91" y1="834.76" x2="101.2" y2="834.76"/><line x1="742" y1="834.76" x2="731.8" y2="834.76"/><line x1="91" y1="814.12" x2="101.2" y2="814.12"/><line x1="742" y1="814.12" x2="731.8" y2="814.12"/><line x1="91" y1="795.65" x2="105.7" y2="795.65"/><line x1="742" y1="795.65" x2="727.3" y2="795.65"/><line x1="91" y1="778.94" x2="101.2" y2="778.94"/><line x1="742" y1="778.94" x2="731.8" y2="778.94"/><line x1="91" y1="763.69" x2="101.2" y2="763.69"/><line x1="742" y1="763.69" x2="731.8" y2="763.69"/><line x1="91" y1="749.66" x2="101.2" y2="749.66"/><line x1="742" y1="749.66" x2="731.8" y2="749.66"/><line x1="91" y1="736.67" x2="101.2" y2="736.67"/><line x1="742" y1="736.67" x2="731.8" y2="736.67"/><line x1="91" y1="724.58" x2="105.7" y2="724.58"/><line x1="742" y1="724.58" x2="727.3" y2="724.58"/><line x1="91" y1="713.26" x2="101.2" y2="713.26"/><line x1="742" y1="713.26" x2="731.8" y2="713.26"/><line x1="91" y1="702.64" x2="101.2" y2="702.64"/><line x1="742" y1="702.64" x2="731.8" y2="702.64"/><line x1="91" y1="692.62" x2="101.2" y2="692.62"/><line x1="742" y1="692.62" x2="731.8" y2="692.62"/><line x1="91" y1="683.14" x2="101.2" y2="683.14"/><line x1="742" y1="683.14" x2="731.8" y2="683.14"/><line x1="91" y1="674.15" x2="105.7" y2="674.15"/><line x1="742" y1="674.15" x2="727.3" y2="674.15"/><line x1="91" y1="665.6" x2="101.2" y2="665.6"/><line x1="742" y1="665.6" x2="731.8" y2="665.6"/><line x1="91" y1="657.44" x2="101.2" y2="657.44"/><line x1="742" y1="657.44" x2="731.8" y2="657.44"/><line x1="91" y1="649.65" x2="101.2" y2="649.65"/><line x1="742" y1="649.65" x2="731.8" y2="649.65"/><line x1="91" y1="642.19" x2="101.2" y2="642.19"/><line x1="742" y1="642.19" x2="731.8" y2="642.19"/></g>
<g fill="none" stroke="#000" stroke-width="2">
<rect x="91.0" y="35.0" width="651.0" height="920.6"/>
<line x1="91.0" y1="635.0" x2="742.0" y2="635.0"/>
</g>
<rect x="147.95" y="416.85" width="10.5" height="10.5" fill="#000"/>
<text transform="translate(187.5 427.9) scale(1 1.07)" font-size="18.9" letter-spacing="0.3">ATLAS</text>
<line x1="129" y1="447.9" x2="177.5" y2="447.9" stroke="#b83059" stroke-width="1.6" stroke-dasharray="4.6,3.8"/>
<circle cx="153.2" cy="447.9" r="4.4" fill="none" stroke="#b83059" stroke-width="1.5"/>
<text transform="translate(187.5 453.7) scale(1 1.07)" font-size="18.9">Pythia 6.428 345</text>
<line x1="129" y1="474" x2="177.5" y2="474" stroke="#a87d2f" stroke-width="1.6" stroke-dasharray="1.8,2.3"/>
<rect x="148.75" y="469.55" width="8.9" height="8.9" fill="none" stroke="#a87d2f" stroke-width="1.5"/>
<text transform="translate(187.5 479.8) scale(1 1.07)" font-size="18.9">Pythia 6.428 346</text>
<line x1="129" y1="499.9" x2="177.5" y2="499.9" stroke="#9e072b" stroke-width="1.6"/>
<path d="M153.2 493.6 L159.4 505.8 L147 505.8 Z" fill="none" stroke="#9e072b" stroke-width="1.6"/>
<text transform="translate(187.5 505.7) scale(1 1.07)" font-size="18.9">Pythia 6.428 370</text>
<line x1="129" y1="526" x2="177.5" y2="526" stroke="#ff8030" stroke-width="1.6" stroke-dasharray="7.4,3.4,2.3,3.4"/>
<rect x="149.2" y="522" width="8" height="8" fill="#ff8030"/>
<text transform="translate(187.5 531.8) scale(1 1.07)" font-size="18.9">Pythia 6.428 default</text>
<line x1="129" y1="552.1" x2="177.5" y2="552.1" stroke="#0000ff" stroke-width="1.6"/>
<path d="M153.2 547.2 L158.3 557 L148.1 557 Z" fill="#0000ff"/>
<text transform="translate(187.5 557.9) scale(1 1.07)" font-size="18.9">Pythia 8.315 default</text>
<path d="M111.57 28.7 H109.3 V16.42 H104.9 V14.87 Q108.31 14.61 109.87 11.41 H111.57 Z" fill="#000"/><text transform="translate(116.6 28.7) scale(1 1.03)" font-size="24.15">3000 GeV pp</text><text transform="translate(717.7 29.2) scale(1 1.09)" font-size="24.1">t</text><text transform="translate(724.8 29.2) scale(1 1.09)" font-size="24.1">t</text><rect x="724.4" y="8.7" width="6.8" height="2" fill="#000"/><text transform="translate(189.3 91.3) scale(1 1.055)" font-size="24">Parton-level t</text><text transform="translate(328.9 91.3) scale(1 1.055)" font-size="24">t</text><rect x="327.5" y="70.65" width="6.4" height="1.5" fill="#000"/><text transform="translate(340.8 91.3) scale(1 1.055)" font-size="24">invariant mass,</text><text transform="translate(509.9 91.3) scale(1 1.055)" font-size="24">|y</text><text transform="translate(523.3 78.9) scale(1 1.055)" font-size="16.8">tt</text><rect x="528" y="64.5" width="4.1" height="1.4" fill="#000"/><text transform="translate(532 91.3) scale(1 1.055)" font-size="24">|</text><path d="M553.2 80.1 H547.6 A4.85 4.85 0 0 0 547.6 89.8 H553.2 M542.8 84.95 H553.2" fill="none" stroke="#000" stroke-width="1.5"/><text transform="translate(560.6 91.3) scale(1 1.055)" font-size="24">[0.2,0.5]</text><text x="325.8" y="603.9" font-size="16" style="fill:#9d9d9d">(ATLAS_2022_I2077575)</text><path d="M54.38 67.9 H52.28 V56.51 H48.2 V55.07 Q51.36 54.83 52.81 51.86 H54.38 Z" fill="#000"/><text transform="translate(59.1 68) scale(1 1.05)" font-size="22.4">0</text><text transform="translate(71 56.9) scale(1 1.03)" font-size="15.4">5</text><path d="M54.38 230.05 H52.28 V218.66 H48.2 V217.22 Q51.36 216.98 52.81 214.01 H54.38 Z" fill="#000"/><text transform="translate(59.1 230.15) scale(1 1.05)" font-size="22.4">0</text><text transform="translate(71 219.05) scale(1 1.03)" font-size="15.4">4</text><path d="M54.38 392.2 H52.28 V380.81 H48.2 V379.37 Q51.36 379.13 52.81 376.16 H54.38 Z" fill="#000"/><text transform="translate(59.1 392.3) scale(1 1.05)" font-size="22.4">0</text><text transform="translate(71 381.2) scale(1 1.03)" font-size="15.4">3</text><path d="M54.38 554.35 H52.28 V542.96 H48.2 V541.52 Q51.36 541.28 52.81 538.31 H54.38 Z" fill="#000"/><text transform="translate(59.1 554.45) scale(1 1.05)" font-size="22.4">0</text><text transform="translate(71 543.35) scale(1 1.03)" font-size="15.4">2</text><text transform="translate(76.4 682.75) scale(1 1.05)" font-size="22.6" text-anchor="end">2</text><text transform="translate(748.5 682.75) scale(1 1.05)" font-size="22.6">2</text><path d="M75.24 804.25 H73.11 V792.76 H69 V791.3 Q72.19 791.06 73.66 788.07 H75.24 Z" fill="#000"/><path d="M756.24 804.25 H754.11 V792.76 H750 V791.3 Q753.19 791.06 754.66 788.07 H756.24 Z" fill="#000"/><text transform="translate(76.4 925.75) scale(1 1.05)" font-size="22.6" text-anchor="end">0.5</text><text transform="translate(748.5 925.75) scale(1 1.05)" font-size="22.6">0.5</text><path d="M128.14 977.8 H126.01 V966.31 H121.9 V964.85 Q125.09 964.61 126.56 961.62 H128.14 Z" fill="#000"/><text transform="translate(325.7 977.9) scale(1 1.04)" font-size="22.6" text-anchor="middle">2</text><text transform="translate(527.7 977.9) scale(1 1.04)" font-size="22.6" text-anchor="middle">3</text><text transform="translate(729.7 977.9) scale(1 1.04)" font-size="22.6" text-anchor="middle">4</text><text transform="translate(611.1 1009.7) scale(1 1.055)" font-size="24.2">m</text><text transform="translate(631.8 1000.5) scale(1 1.055)" font-size="16.8">tt</text><rect x="636" y="987" width="5.5" height="1.4" fill="#000"/><text transform="translate(648.3 1009.7) scale(1 1.055)" font-size="24.2">#</text><text transform="translate(668.5 1009.7) scale(1 1.055)" font-size="24.2">[</text><text transform="translate(677.8 1009.7) scale(1 1.055)" font-size="24.2">{</text><text transform="translate(684.8 1009.7) scale(1 1.02)" font-size="25.2">TeV</text><text transform="translate(730.8 1009.7) scale(1 1.055)" font-size="24.2">}</text><text transform="translate(737.5 1009.7) scale(1 1.055)" font-size="24.2">]</text><g transform="translate(36.4,855.4) rotate(-90)"><text transform="translate(0 0) scale(1 1.045)" font-size="18.15">Ratio to ATLAS</text></g><g transform="translate(760,254.5) rotate(-90)"><text transform="translate(0 0) scale(1 1.07)" font-size="18.85" style="fill:#6e6e6e">Rivet 4.1.0, ≥ 100k events</text></g><g transform="translate(762,628.8) rotate(-90)"><text transform="translate(0 0) scale(1 1.07)" font-size="18.95" style="fill:#6e6e6e">mcplots.cern.ch [arXiv:1306.3436]</text></g><g transform="translate(36.9,352.6) rotate(-90)"><text transform="translate(-0.71 0) scale(1 1.055)" font-size="24.0">d</text><text transform="translate(11.59 -11.4) scale(1 1.055)" font-size="16.2">2</text><text transform="translate(20.79 0) scale(1 1.055)" font-size="24.0">σ / d|y</text><text transform="translate(86.46 -11.4) scale(1 1.055)" font-size="16.2">tt</text><rect x="90" y="-26.4" width="4.2" height="1.6" fill="#000"/><text transform="translate(94.86 0) scale(1 1.055)" font-size="24.0">| dm</text><text transform="translate(139.16 -11.4) scale(1 1.055)" font-size="16.2">tt</text><rect x="142.9" y="-26.4" width="4.3" height="1.6" fill="#000"/><text transform="translate(154.6 0) scale(1 1.055)" font-size="24.0">#</text><text transform="translate(173.4 0) scale(1 1.055)" font-size="24.0">[{fb}</text><text transform="translate(221.8 0) scale(1 1.055)" font-size="24.0">#</text><text transform="translate(243.6 0) scale(1 1.055)" font-size="23.4">{TeV}</text><text transform="translate(300.84 -11.4) scale(1 1.055)" font-size="15.0">-1</text><text transform="translate(312.91 0) scale(1 1.055)" font-size="24.0">]</text></g>
</svg></body></html>
